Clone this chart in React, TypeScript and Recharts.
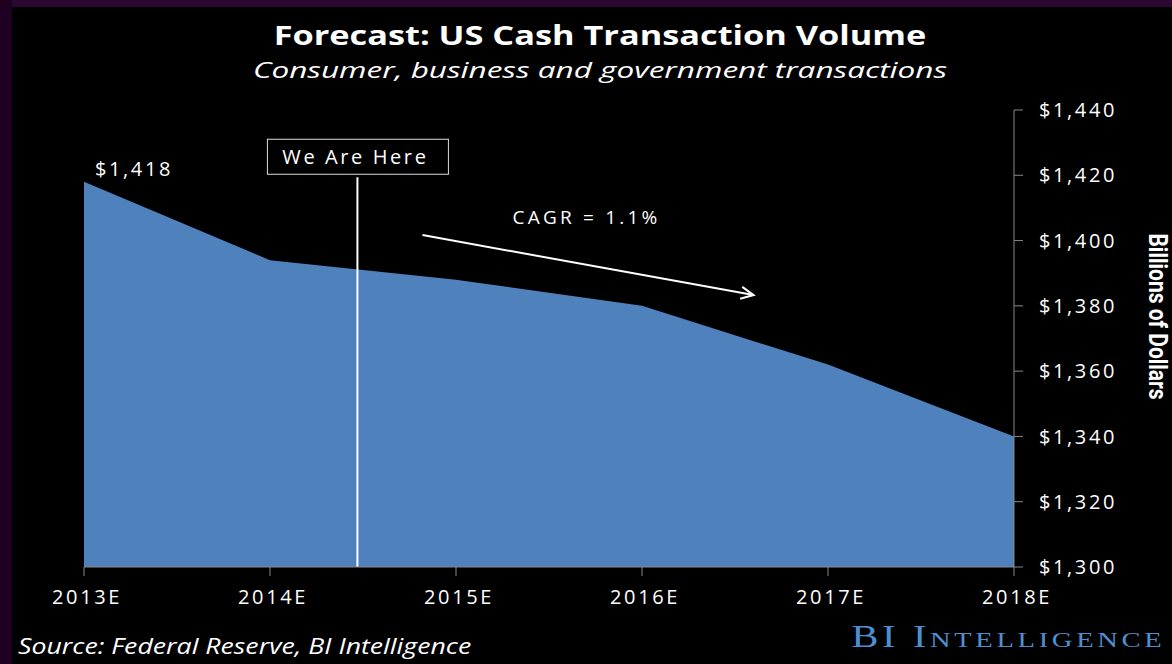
import React from "react";
import { AreaChart, Area, XAxis, YAxis, ReferenceLine, LabelList } from "recharts";

const years = [2013, 2014, 2015, 2016, 2017, 2018];
const volume = [1418, 1394, 1388, 1380, 1362, 1340];
const yTicks = [1300, 1320, 1340, 1360, 1380, 1400, 1420, 1440];
const weAreHereYear = 2014.47;
const weAreHereTop = 1419.4;
const cagrFrom = { x: 2014.82, y: 1401.7 };
const cagrTo = { x: 2016.6, y: 1383.3 };

const data = years.map((year, i) => ({ year, volume: volume[i] }));

const FONT = "'Open Sans', 'DejaVu Sans', sans-serif";

function WeAreHere(props: any) {
  const { x1, y1, x2, y2 } = props;
  const top = Math.min(y1, y2);
  const bottom = Math.max(y1, y2);
  return (
    <g>
      <line x1={x1} x2={x2} y1={top} y2={bottom} stroke="#fff" strokeWidth={2} />
      <rect x={x1 - 90} y={top - 38} width={181} height={35} fill="#000" stroke="#ddd" strokeWidth={1} />
      <text x={x1 - 2} y={top - 13} textAnchor="middle" fill="#fff" fontSize={20} fontFamily={FONT} letterSpacing={2.6}>
        We Are Here
      </text>
    </g>
  );
}

function CagrArrow(props: any) {
  const { x1, y1, x2, y2 } = props;
  const ang = Math.atan2(y2 - y1, x2 - x1);
  const len = 14;
  const spread = 0.45;
  const ax = x2 - len * Math.cos(ang - spread);
  const ay = y2 - len * Math.sin(ang - spread);
  const bx = x2 - len * Math.cos(ang + spread);
  const by = y2 - len * Math.sin(ang + spread);
  return (
    <g>
      <line x1={x1} y1={y1} x2={x2} y2={y2} stroke="#fff" strokeWidth={2} />
      <polyline points={`${ax},${ay} ${x2},${y2} ${bx},${by}`} fill="none" stroke="#fff" strokeWidth={2} />
      <text x={x1 + 90} y={y1 - 11} fill="#fff" fontSize={19} fontFamily={FONT} letterSpacing={3.2}>
        CAGR = 1.1%
      </text>
    </g>
  );
}

function FirstValue(props: any) {
  const { x, y, value, index } = props;
  if (index !== 0) return null;
  return (
    <text x={x + 11} y={y - 6} fill="#fff" fontSize={20} fontFamily={FONT} letterSpacing={2.6}>
      {"$" + Number(value).toLocaleString("en-US")}
    </text>
  );
}

function YLabel(props: any) {
  const { viewBox } = props;
  const cx = viewBox.x + 142;
  const cy = viewBox.y + viewBox.height / 2 - 22;
  return (
    <text
      transform={`translate(${cx}, ${cy}) scale(1.2, 1) rotate(90)`}
      textAnchor="middle"
      dominantBaseline="middle"
      fill="#fff"
      fontSize={21}
      fontWeight="bold"
      fontFamily="'Liberation Sans Narrow', 'Roboto', sans-serif"
    >
      Billions of Dollars
    </text>
  );
}

const tickStyle = { fill: "#fff", fontSize: 20, fontFamily: FONT, letterSpacing: 2.6 };

export default function App() {
  return (
    <div style={{ position: "absolute", left: 0, top: 0, width: 1172, height: 664, background: "#000", overflow: "hidden" }}>
      <div style={{ position: "absolute", left: 0, top: 0, width: 1172, height: 7, background: "#2c0734" }} />
      <div style={{ position: "absolute", left: 0, top: 0, width: 12, height: 664, background: "#1f0022" }} />
      <div
        style={{
          position: "absolute",
          left: 0,
          width: 1200,
          top: 17,
          textAlign: "center",
          color: "#fff",
          fontFamily: FONT,
          fontWeight: 700,
          fontSize: 26,
          whiteSpace: "nowrap",
          transform: "scaleX(1.32)",
          transformOrigin: "600px 0",
        }}
      >
        Forecast: US Cash Transaction Volume
      </div>
      <div
        style={{
          position: "absolute",
          left: 0,
          width: 1200,
          top: 56,
          textAlign: "center",
          color: "#fff",
          fontFamily: FONT,
          fontStyle: "italic",
          fontSize: 21,
          whiteSpace: "nowrap",
          transform: "scaleX(1.5)",
          transformOrigin: "600px 0",
        }}
      >
        Consumer, business and government transactions
      </div>
      <AreaChart
        width={1172}
        height={664}
        data={data}
        margin={{ top: 110, right: 18, bottom: 57, left: 84 }}
        style={{ position: "absolute", left: 0, top: 0 }}
      >
        <XAxis
          dataKey="year"
          type="number"
          domain={[2013, 2018]}
          ticks={years}
          tickFormatter={(v: number) => `${v}E`}
          height={40}
          axisLine={{ stroke: "#888" }}
          tickLine={{ stroke: "#888" }}
          tickSize={9}
          tickMargin={14}
          tick={{ ...tickStyle, dx: 3 }}
          interval={0}
        />
        <YAxis
          orientation="right"
          domain={[1300, 1440]}
          ticks={yTicks}
          allowDataOverflow
          width={140}
          tickFormatter={(v: number) => "$" + v.toLocaleString("en-US")}
          axisLine={{ stroke: "#888" }}
          tickLine={{ stroke: "#888" }}
          tickSize={9}
          tickMargin={16}
          tick={tickStyle}
          interval={0}
          label={<YLabel />}
        />
        <Area
          type="linear"
          dataKey="volume"
          fill="#4f81bd"
          fillOpacity={1}
          stroke="none"
          isAnimationActive={false}
        >
          <LabelList dataKey="volume" content={<FirstValue />} />
        </Area>
        <ReferenceLine
          segment={[
            { x: weAreHereYear, y: 1300 },
            { x: weAreHereYear, y: weAreHereTop },
          ]}
          shape={WeAreHere}
          ifOverflow="visible"
        />
        <ReferenceLine segment={[cagrFrom, cagrTo]} shape={CagrArrow} ifOverflow="visible" />
      </AreaChart>
      <div
        style={{
          position: "absolute",
          left: 18,
          top: 632,
          color: "#fff",
          fontFamily: FONT,
          fontStyle: "italic",
          fontSize: 21,
          lineHeight: "28px",
          whiteSpace: "nowrap",
          transform: "scaleX(1.27)",
          transformOrigin: "0 0",
        }}
      >
        Source: Federal Reserve, BI Intelligence
      </div>
      <div
        style={{
          position: "absolute",
          right: 7,
          top: 619,
          color: "#4d90d2",
          fontFamily: "'Liberation Serif', 'DejaVu Serif', serif",
          fontVariant: "small-caps",
          fontSize: 31,
          letterSpacing: 2.8,
          whiteSpace: "nowrap",
          transform: "scaleX(1.3)",
          transformOrigin: "100% 0",
        }}
      >
        BI Intelligence
      </div>
    </div>
  );
}
